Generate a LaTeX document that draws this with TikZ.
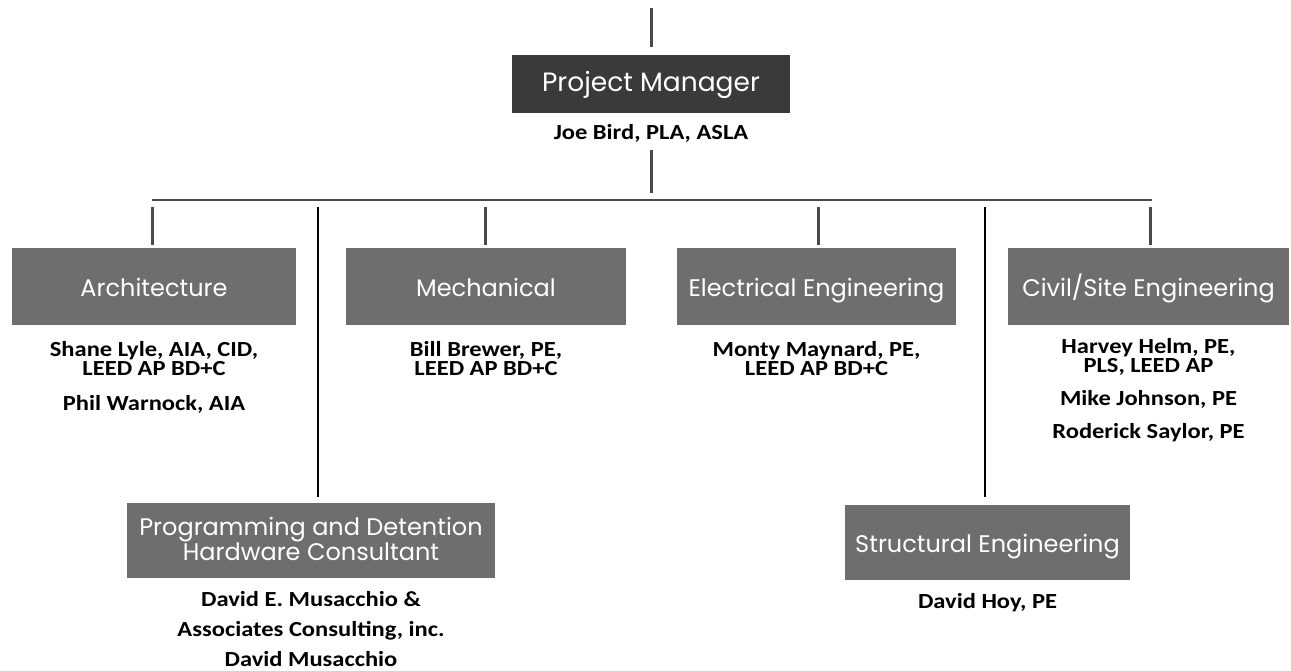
\documentclass[tikz,border=0pt]{standalone}
\usepackage{fontspec}
\setmainfont{Carlito}
\newfontfamily\boxfont{Poppins}
\newfontfamily\namesfam[FakeStretch=1.14]{Carlito}
\newcommand\namesfont{\namesfam\fontsize{21.5}{19}\selectfont\lineskiplimit=-30pt\relax\bfseries}
\definecolor{pmgray}{HTML}{3A3A3A}
\definecolor{deptgray}{HTML}{6E6E6E}
\definecolor{linegray}{HTML}{4A4A4A}
\begin{document}
\begin{tikzpicture}[x=1pt,y=-1pt,
  every node/.style = {inner sep=0pt, align=center},
  dept/.style = {fill=deptgray, text=white, minimum height=77pt,
    text height=20pt, text depth=0pt,
    font=\boxfont\fontsize{24}{24}\selectfont},
  names/.style = {anchor=base, font=\namesfont},
  link/.style = {draw=linegray, line width=3pt},
  longlink/.style = {draw=black, line width=2.5pt},
  busline/.style = {draw=linegray, line width=2pt}]
  \useasboundingbox (0,0) rectangle (1291,671);
  \node[dept, fill=pmgray, minimum width=278pt, minimum height=58pt, text height=16pt,
    font=\boxfont\fontsize{26.5}{26.5}\selectfont] (pm) at (651,84) {Project Manager};
  \node[names] (pmnames) at (651,140) {Joe Bird, PLA, ASLA};
  \coordinate (top) at (651,8);
  \coordinate (bus) at (651,200);
  \coordinate (busL) at (152,200);
  \coordinate (busR) at (1152,200);
  \foreach \name/\x in {tapArch/152, tapProg/318, tapMech/485, tapElec/818, tapStruct/985, tapCivil/1150}
    \coordinate (\name) at (\x,200);
  % departments
  \node[dept, minimum width=284pt] (arch) at (154,286.5) {Architecture};
  \node[dept, minimum width=280pt] (mech) at (486,286.5) {Mechanical};
  \node[dept, minimum width=279pt] (elec) at (816.5,286.5) {Electrical Engineering};
  \node[dept, minimum width=281pt] (civil) at (1148.5,286.5) {Civil/Site Engineering};
  \node[dept, minimum width=368pt, minimum height=75pt, text height=40pt] (prog) at (311,540.5) {Programming and Detention\\Hardware Consultant};
  \node[dept, minimum width=285pt, minimum height=75pt] (struct) at (987.5,542.5) {Structural Engineering};
  % people (anchored on the last line)
  \node[names] (archnames) at (154,410) {Shane Lyle, AIA, CID,\\LEED AP BD+C\\[16pt]Phil Warnock, AIA};
  \node[names] (mechnames) at (486,375) {Bill Brewer, PE,\\LEED AP BD+C};
  \node[names] (elecnames) at (816.5,375) {Monty Maynard, PE,\\LEED AP BD+C};
  \node[names] (civilnames) at (1148.5,438) {Harvey Helm, PE,\\PLS, LEED AP\\[14pt]Mike Johnson, PE\\[14pt]Roderick Saylor, PE};
  \node[names] (prognames) at (311,666) {David E. Musacchio \&\\[11pt]Associates Consulting, inc.\\[11pt]David Musacchio};
  \node[names] (structnames) at (987.5,608) {David Hoy, PE};
  % connectors
  \draw[link, shorten >=8pt] (top) -- (top |- pm.north);
  \draw[link, shorten <=7pt, shorten >=7pt] (pmnames.south) -- (bus);
  \draw[busline] (busL) -- (busR);
  \draw[link, shorten <=7pt, shorten >=3pt] (tapArch) -- (tapArch |- arch.north);
  \draw[link, shorten <=7pt, shorten >=3pt] (tapMech) -- (tapMech |- mech.north);
  \draw[link, shorten <=7pt, shorten >=3pt] (tapElec) -- (tapElec |- elec.north);
  \draw[link, shorten <=7pt, shorten >=3pt] (tapCivil) -- (tapCivil |- civil.north);
  \draw[longlink, shorten <=7pt, shorten >=6pt] (tapProg) -- (tapProg |- prog.north);
  \draw[longlink, shorten <=7pt, shorten >=8pt] (tapStruct) -- (tapStruct |- struct.north);
\end{tikzpicture}
\end{document}
